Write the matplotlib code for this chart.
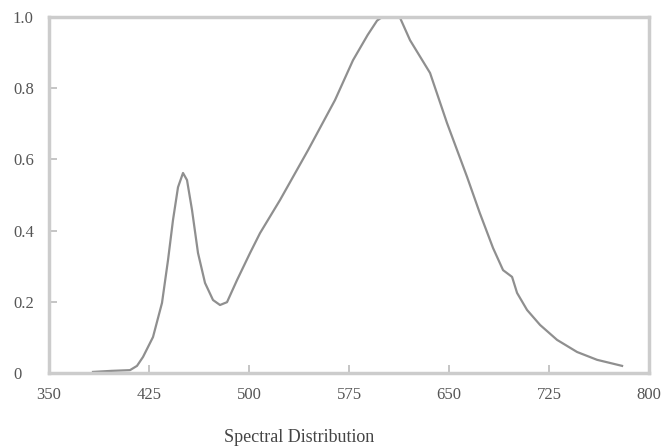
import matplotlib
matplotlib.use("Agg")
import matplotlib.pyplot as plt

plt.rcParams['font.family'] = ['Liberation Serif', 'DejaVu Serif']

# spectrum (wavelength nm, relative intensity)
wavelength = [383, 397, 410.75, 416, 420.5, 428, 434.75, 439.25, 443, 446.75,
              450.5, 453.5, 457.25, 461.75, 467, 473, 478.25, 483.5, 491,
              500.75, 508.25, 523.25, 544.25, 564.5, 578, 589, 596, 599.75,
              613, 620.75, 635.75, 648.5, 663.5, 673, 683, 690.5, 697.25, 701,
              708.5, 718.25, 731, 746, 761, 779.75]
intensity = [0.003, 0.006, 0.008, 0.02, 0.045, 0.101, 0.197, 0.317, 0.43, 0.522,
             0.562, 0.542, 0.458, 0.337, 0.253, 0.205, 0.191, 0.199, 0.261,
             0.337, 0.393, 0.486, 0.626, 0.767, 0.879, 0.95, 0.99, 1.0,
             1.0, 0.935, 0.843, 0.702, 0.551, 0.45, 0.351, 0.289, 0.27, 0.225,
             0.177, 0.135, 0.093, 0.059, 0.037, 0.02]

x_ticks = [350, 425, 500, 575, 650, 725, 800]
y_ticks = [0, 0.2, 0.4, 0.6, 0.8, 1.0]
y_labels = ['0', '0.2', '0.4', '0.6', '0.8', '1.0']

fig = plt.figure(figsize=(6.72, 4.46), dpi=100)
ax = fig.add_axes([0.0729, 0.1637, 0.893, 0.798])
ax.plot(wavelength, intensity, color='#8f8f8f', lw=1.6, solid_joinstyle='round')

ax.set_xlim(350, 800)
ax.set_ylim(0, 1.0)
ax.set_xticks(x_ticks)
ax.set_yticks(y_ticks)
ax.set_yticklabels(y_labels, ha='left')
ax.tick_params(direction='in', length=6, width=1.2, color='#bbbbbb',
               labelcolor='#555555', labelsize=12)
ax.tick_params(axis='x', pad=10)
ax.tick_params(axis='y', pad=26)
for s in ax.spines.values():
    s.set_color('#cccccc')
    s.set_linewidth(2.5)

fig.text(299 / 672, 9 / 446, 'Spectral Distribution', ha='center', va='center',
         fontsize=13, color='#444444')

fig.savefig('out.png', dpi=100)
